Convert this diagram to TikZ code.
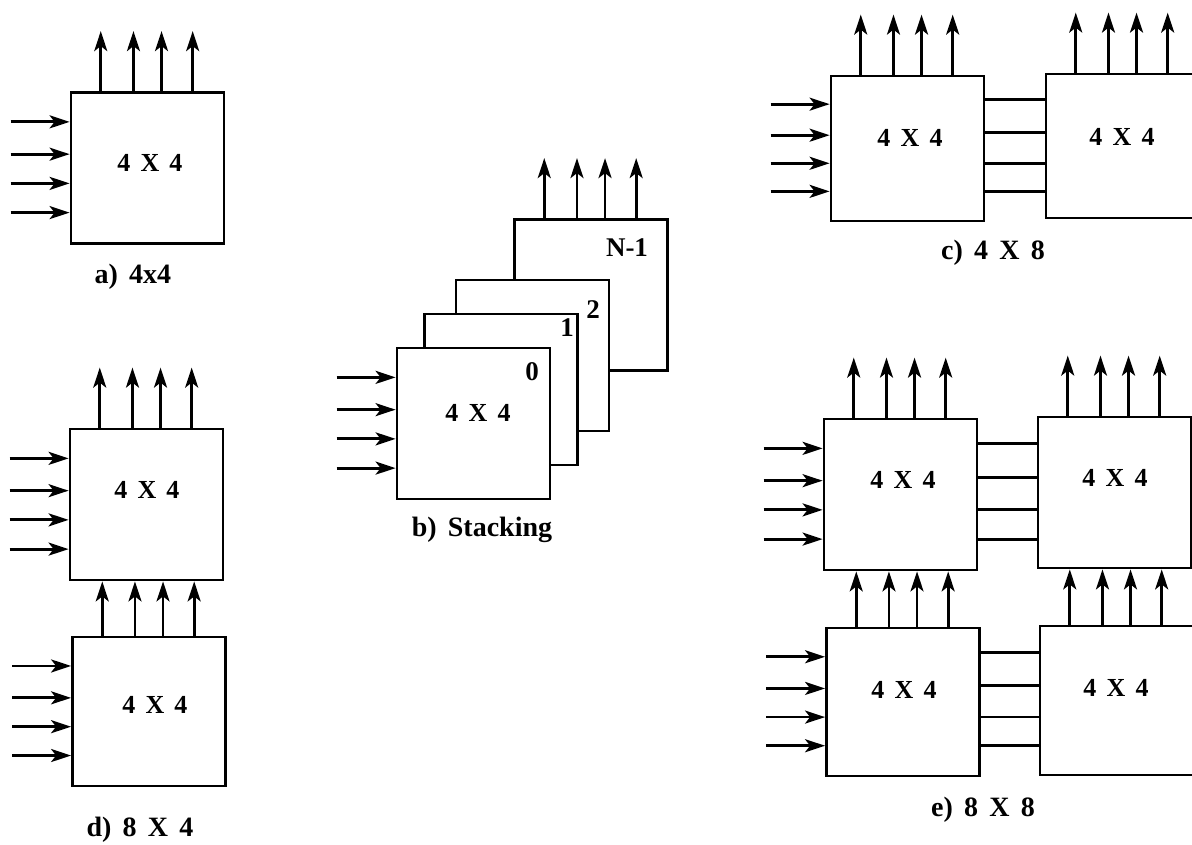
\documentclass[tikz,border=0pt]{standalone}
\usepackage{fontspec}
\setmainfont{Liberation Serif}
\usetikzlibrary{arrows.meta,calc}
\newcommand{\blabfont}{\fontsize{26}{30}\selectfont\bfseries\spaceskip=0.39em\relax}
\newcommand{\capfont}{\fontsize{28}{32}\selectfont\bfseries\spaceskip=0.4em\relax}
\tikzset{
  blk/.style={draw, line width=2.8pt, fill=white, minimum width=153pt, minimum height=151pt, inner sep=0pt},
  blab/.style={font=\blabfont},
  subcap/.style={font=\capfont},
  num/.style={font=\fontsize{27}{30}\selectfont\bfseries},
  sarr/.style={-{Stealth[length=20pt,width=13pt,inset=5pt]}, line width=2.8pt},
  link/.style={line width=2.8pt},
}
% four lines out of the top of a block
\newcommand{\outs}[1]{%
  \foreach \f [count=\k] in {0.2,0.41,0.59,0.79}{
    \coordinate (#1o\k) at ($(#1.north west)!\f!(#1.north east)$);
    \draw[sarr] (#1o\k) -- ++(0,-60);}}
% four lines into the left side of a block
\newcommand{\ins}[1]{%
  \foreach \f [count=\k] in {0.2,0.41,0.6,0.79}{
    \coordinate (#1i\k) at ($(#1.north west)!\f!(#1.south west)$);
    \draw[sarr] ([xshift=-59pt]#1i\k) -- (#1i\k);}}
% lower block feeding the one above
\newcommand{\feeds}[2]{%
  \foreach \f [count=\k] in {0.2,0.41,0.59,0.79}{
    \coordinate (#1u\k) at ($(#1.north west)!\f!(#1.north east)$);
    \draw[sarr] (#1u\k) -- (#1u\k |- #2.south);}}
% plain links between side by side blocks
\newcommand{\links}[2]{%
  \foreach \f [count=\k] in {0.17,0.39,0.6,0.79}{
    \coordinate (#1r\k) at ($(#1.north east)!\f!(#1.south east)$);
    \draw[link] (#1r\k) -- (#1r\k -| #2.west);}}

\begin{document}
\begin{tikzpicture}[x=1pt, y=-1pt]
  \useasboundingbox (0,0) rectangle (1192,844);
  % a) single block
  \node[blk] (a) at (147.5,168) {};
  \outs{a} \ins{a}
  \node[blab] (ta) at (150,163) {4 X 4};
  \node[subcap] (ca) at (133,277) {a) 4x4};
  % b) stacking
  \node[blk] (bn) at (591,295) {};
  \node[blk] (b2) at (532.5,355.5) {};
  \node[blk] (b1) at (501,389.5) {};
  \node[blk] (b0) at (473.5,423.5) {};
  \outs{bn} \ins{b0}
  \node[blab] (tb) at (478,413) {4 X 4};
  \node[num] (n0) at (532,372) {0};
  \node[num] (n1) at (567,328) {1};
  \node[num] (n2) at (593,310) {2};
  \node[num] (nn) at (627,248) {N-1};
  \node[subcap] (cb) at (482,530) {b) Stacking};
  % c) 4 X 8
  \node[blk, minimum height=145pt] (c1) at (907.5,148.5) {};
  \node[blk, minimum height=144pt] (c2) at (1122.5,146) {};
  \outs{c1} \outs{c2} \ins{c1}
  \links{c1}{c2}
  \node[blab] (tc1) at (910,138) {4 X 4};
  \node[blab] (tc2) at (1122,137) {4 X 4};
  \node[subcap] (cc) at (993,253) {c) 4 X 8};
  % d) 8 X 4
  \node[blk] (d1) at (146.5,504.5) {};
  \node[blk, minimum height=149pt] (d2) at (149,711.5) {};
  \outs{d1} \ins{d1} \ins{d2}
  \feeds{d2}{d1}
  \node[blab] (td1) at (147,490) {4 X 4};
  \node[blab] (td2) at (155,705) {4 X 4};
  \node[subcap] (cd) at (140,830) {d) 8 X 4};
  % e) 8 X 8
  \node[blk] (e1) at (900.5,494.5) {};
  \node[blk] (e2) at (1114.5,492.5) {};
  \node[blk, minimum height=148pt] (e3) at (903,702) {};
  \node[blk, minimum height=149pt] (e4) at (1116.5,700.5) {};
  \outs{e1} \outs{e2} \ins{e1} \ins{e3}
  \feeds{e3}{e1} \feeds{e4}{e2}
  \links{e1}{e2} \links{e3}{e4}
  \node[blab] (te1) at (903,480) {4 X 4};
  \node[blab] (te2) at (1115,478) {4 X 4};
  \node[blab] (te3) at (904,690) {4 X 4};
  \node[blab] (te4) at (1116,688) {4 X 4};
  \node[subcap] (ce) at (983,810) {e) 8 X 8};
\end{tikzpicture}
\end{document}
